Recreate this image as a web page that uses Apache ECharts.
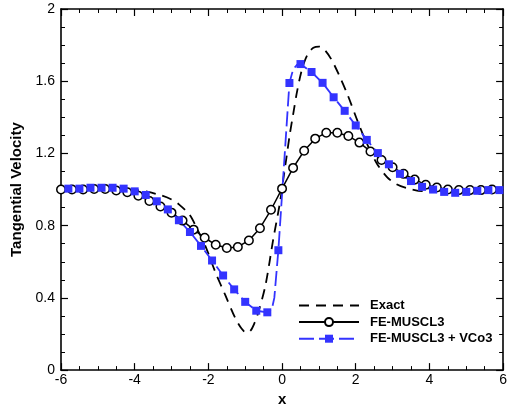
<!DOCTYPE html>
<html>
<head>
<meta charset="utf-8">
<script src="https://cdn.jsdelivr.net/npm/echarts@6/dist/echarts.min.js"></script>
<style>
html,body{margin:0;padding:0;background:#fff;}
#chart{width:510px;height:412px;}
</style>
</head>
<body>
<div id="chart"></div>
<script>
// ---- data ----
const exactX = [-6.0,-5.0,-4.5,-4.0,-3.7,-3.3,-3.0,-2.8,-2.5,-2.3,-2.08,-1.81,-1.54,-1.27,-1.1,-0.96,-0.85,-0.75,-0.64,-0.45,-0.24,-0.06,0.03,0.12,0.21,0.30,0.39,0.48,0.57,0.70,0.85,1.0,1.15,1.33,1.55,1.78,2.05,2.31,2.58,2.85,3.1,3.39,3.84,4.2,4.6,5.0,6.0];
const exactY = [1.0,1.0,1.0,0.998,0.99,0.969,0.945,0.918,0.858,0.78,0.687,0.542,0.415,0.288,0.23,0.206,0.22,0.26,0.323,0.47,0.724,0.924,1.051,1.178,1.306,1.415,1.524,1.615,1.687,1.751,1.785,1.792,1.775,1.724,1.633,1.524,1.379,1.251,1.142,1.069,1.03,1.008,0.991,0.992,0.998,1.0,1.0];

const musclX = [-6.0,-5.7,-5.4,-5.1,-4.8,-4.5,-4.2,-3.9,-3.6,-3.3,-3.0,-2.7,-2.4,-2.1,-1.8,-1.5,-1.2,-0.9,-0.6,-0.3,0.0,0.3,0.6,0.9,1.2,1.5,1.8,2.1,2.4,2.7,3.0,3.3,3.6,3.9,4.2,4.5,4.8,5.1,5.4,5.7];
const musclY = [1.0,1.0,1.0,1.003,1.003,0.995,0.985,0.966,0.937,0.906,0.872,0.828,0.778,0.733,0.694,0.676,0.682,0.718,0.786,0.888,1.005,1.12,1.215,1.282,1.315,1.315,1.297,1.26,1.211,1.164,1.124,1.087,1.055,1.027,1.011,1.0,0.997,0.997,0.997,1.0];

const vcoX = [-5.8,-5.5,-5.2,-4.9,-4.6,-4.3,-4.0,-3.7,-3.4,-3.1,-2.8,-2.5,-2.2,-1.9,-1.6,-1.3,-1.0,-0.7,-0.4,-0.1,0.2,0.5,0.8,1.1,1.4,1.7,2.0,2.3,2.6,2.9,3.2,3.5,3.8,4.1,4.4,4.7,5.0,5.3,5.6,5.9];
const vcoY = [1.005,1.005,1.01,1.01,1.01,1.005,0.99,0.97,0.935,0.89,0.83,0.765,0.688,0.607,0.524,0.447,0.378,0.329,0.32,0.664,1.59,1.695,1.651,1.591,1.511,1.436,1.355,1.275,1.202,1.14,1.087,1.047,1.015,1.0,0.987,0.982,0.987,0.993,0.997,0.997];
// extra points of the VCo3 line that carry no marker
const vcoLineX = [-0.28,-0.21,0.30,0.40];
const vcoLineY = [0.335,0.40,1.665,1.69];

const xTicks = {min:-6, max:6, interval:2};
const yTicks = {min:0, max:2, interval:0.4};
const seriesNames = ['Exact','FE-MUSCL3','FE-MUSCL3 + VCo3'];

// ---- build ----
const FONT = "'Liberation Sans', Arial, Helvetica, sans-serif";
const BLUE = '#3333ff';

const exactData = exactX.map((x,i)=>[x, exactY[i]]);
const musclData = musclX.map((x,i)=>[x, musclY[i]]);
const vcoData = vcoX.map((x,i)=>({value:[x, vcoY[i]]}))
  .concat(vcoLineX.map((x,i)=>({value:[x, vcoLineY[i]], symbol:'none'})))
  .sort((a,b)=>a.value[0]-b.value[0]);

function xAxisDef(pos, showLabel){
  return {
    type:'value', position:pos, min:xTicks.min, max:xTicks.max, interval:xTicks.interval,
    axisLine:{show:true, onZero:false, lineStyle:{color:'#000', width:1.6}},
    axisTick:{show:true, inside:true, length:7, lineStyle:{color:'#000', width:1.2}},
    minorTick:{show:true, splitNumber:4, length:4, lineStyle:{color:'#000', width:1}},
    splitLine:{show:false},
    axisLabel:{show:showLabel, color:'#000', fontSize:14, fontFamily:FONT, margin:3},
    name: showLabel ? 'x' : '',
    nameLocation:'middle', nameGap:15,
    nameTextStyle:{color:'#000', fontSize:15, fontWeight:'bold', fontFamily:FONT}
  };
}
function yAxisDef(pos, showLabel){
  return {
    type:'value', position:pos, min:yTicks.min, max:yTicks.max, interval:yTicks.interval,
    axisLine:{show:true, onZero:false, lineStyle:{color:'#000', width:1.6}},
    axisTick:{show:true, inside:true, length:7, lineStyle:{color:'#000', width:1.2}},
    minorTick:{show:true, splitNumber:4, length:4, lineStyle:{color:'#000', width:1}},
    splitLine:{show:false},
    axisLabel:{show:showLabel, color:'#000', fontSize:14, fontFamily:FONT, margin:6},
    name: showLabel ? 'Tangential Velocity' : '',
    nameLocation:'middle', nameGap:32,
    nameTextStyle:{color:'#000', fontSize:15, fontWeight:'bold', fontFamily:FONT}
  };
}

const chart = echarts.init(document.getElementById('chart'), null, {renderer:'canvas'});
chart.setOption({
  animation:false,
  backgroundColor:'#fff',
  grid:{left:61, right:3, top:9, bottom:36, containLabel:false},
  xAxis:[xAxisDef('bottom', true), xAxisDef('top', false)],
  yAxis:[yAxisDef('left', true), yAxisDef('right', false)],
  legend:{
    orient:'vertical', left:298, top:299, padding:0,
    itemWidth:60, itemHeight:10, itemGap:3.6,
    data:[
      {name:seriesNames[0], itemStyle:{color:'rgba(0,0,0,0)', borderWidth:0, opacity:0}},
      {name:seriesNames[1]},
      {name:seriesNames[2]}
    ],
    textStyle:{color:'#000', fontSize:13, fontWeight:'bold', fontFamily:FONT, padding:[0,0,0,6]}
  },
  series:[
    {
      name:seriesNames[0], type:'line', data:exactData, xAxisIndex:0, yAxisIndex:0,
      smooth:0.3, symbol:'none', showSymbol:false,
      lineStyle:{color:'#000', width:1.8, type:[10,7]},
      itemStyle:{color:'#000'}
    },
    {
      name:seriesNames[1], type:'line', data:musclData, xAxisIndex:0, yAxisIndex:0,
      symbol:'circle', symbolSize:8.5,
      lineStyle:{color:'#000', width:1.5},
      itemStyle:{color:'#fff', borderColor:'#000', borderWidth:1.5}
    },
    {
      name:seriesNames[2], type:'line', data:vcoData, xAxisIndex:0, yAxisIndex:0,
      symbol:'rect', symbolSize:8,
      lineStyle:{color:BLUE, width:1.8, type:[15,5]},
      itemStyle:{color:BLUE}
    }
  ]
});
</script>
</body>
</html>
